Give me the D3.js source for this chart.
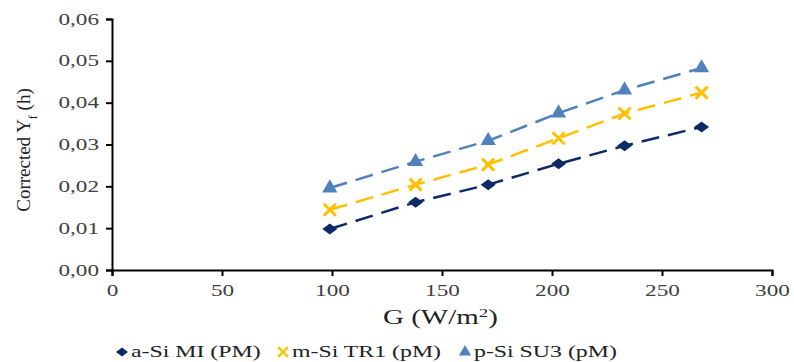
<!DOCTYPE html>
<html>
<head>
<meta charset="utf-8">
<script src="https://cdn.jsdelivr.net/npm/d3@7"></script>
<style>
  body { margin: 0; background: #fff; }
  svg text { font-family: "Liberation Serif", "DejaVu Serif", "Times New Roman", serif; }
</style>
</head>
<body>
<div id="chart"></div>
<script>
// irradiance values (x)
var gVals = [99, 138, 171, 203, 233, 268];
// corrected final yield per module
var aSi = [0.0098, 0.0162, 0.0204, 0.0254, 0.0297, 0.0342];
var mSi = [0.0144, 0.0204, 0.0252, 0.0315, 0.0374, 0.0424];
var pSi = [0.0196, 0.0259, 0.0309, 0.0375, 0.0430, 0.0483];
var seriesNames = ["a-Si MI (PM)", "m-Si TR1 (pM)", "p-Si SU3 (pM)"];
var xTicks = [0, 50, 100, 150, 200, 250, 300];
var yTicks = [0, 0.01, 0.02, 0.03, 0.04, 0.05, 0.06];

var colors = ["#0b2a66", "#ffc000", "#4f81bd"];
var shapes = ["diamond", "cross", "triangle"];

var svgW = 794, svgH = 362;
var margin = { top: 19, right: 21, bottom: 92, left: 112 };
var chartW = svgW - margin.left - margin.right;
var chartH = svgH - margin.top - margin.bottom;

var svg = d3.select("#chart").append("svg")
    .attr("width", svgW)
    .attr("height", svgH);

var chartG = svg.append("g")
    .attr("transform", `translate(${margin.left}, ${margin.top})`);

var xScale = d3.scaleLinear().domain([0, 300]).range([0, 660]);
var yScale = d3.scaleLinear().domain([0, 0.06]).range([chartH, 0]);

var fmt = function(d) { return d3.format(".2f")(d).replace(".", ","); };

var bAxis = d3.axisBottom(xScale).tickValues(xTicks).tickSize(6).tickPadding(9);
var lAxis = d3.axisLeft(yScale).tickValues(yTicks).tickSize(6).tickPadding(7).tickFormat(fmt);

var xAxis = chartG.append("g")
    .attr("transform", `translate(0, ${chartH})`)
    .call(bAxis);
var yAxis = chartG.append("g").call(lAxis);

[xAxis, yAxis].forEach(function(ax) {
    ax.attr("font-size", 16);
    ax.select(".domain").attr("stroke", "#000").attr("stroke-width", 2);
    ax.selectAll(".tick line").attr("stroke", "#000").attr("stroke-width", 2);
    ax.selectAll(".tick text").attr("fill", "#404040");
});

// the original picture is stretched sideways, so widen horizontal text
function widen(sel, k) {
    sel.each(function() {
        var len = this.getComputedTextLength();
        d3.select(this)
            .attr("textLength", len * k)
            .attr("lengthAdjust", "spacingAndGlyphs");
    });
}
widen(xAxis.selectAll(".tick text"), 1.45);
widen(yAxis.selectAll(".tick text"), 1.45);

var data = [aSi, mSi, pSi].map(function(vals, i) {
    return vals.map(function(v, j) { return { x: gVals[j], y: v }; });
});

var line = d3.line()
    .x(function(d) { return xScale(d.x); })
    .y(function(d) { return yScale(d.y); });

data.forEach(function(s, i) {
    chartG.append("path")
        .datum(s)
        .attr("d", line)
        .attr("fill", "none")
        .attr("stroke", colors[i])
        .attr("stroke-width", 2.5)
        .attr("stroke-dasharray", "18,9");
});

function drawMarker(g, i, cx, cy, k) {
    k = k || 1;
    if (shapes[i] === "cross") {
        var r = 6 * k;
        g.append("path")
            .attr("d", `M${cx - r},${cy - r}L${cx + r},${cy + r}M${cx - r},${cy + r}L${cx + r},${cy - r}`)
            .attr("stroke", colors[i])
            .attr("stroke-width", 3 * k)
            .attr("fill", "none");
    } else if (shapes[i] === "diamond") {
        var w = 7.5 * k, h = 5.5 * k;
        g.append("path")
            .attr("d", `M${cx - w},${cy}L${cx},${cy - h}L${cx + w},${cy}L${cx},${cy + h}Z`)
            .attr("fill", colors[i]);
    } else {
        g.append("path")
            .attr("d", d3.symbol().type(d3.symbolTriangle).size(100 * k * k)())
            .attr("transform", `translate(${cx}, ${cy})`)
            .attr("fill", colors[i]);
    }
}

data.forEach(function(s, i) {
    s.forEach(function(d) {
        drawMarker(chartG, i, xScale(d.x), yScale(d.y));
    });
});

// axis titles
var xTitle = svg.append("text")
    .attr("x", 383)
    .attr("y", 324)
    .attr("fill", "#222")
    .attr("font-size", 20)
    .html('G (W/m<tspan baseline-shift="super" font-size="13">2</tspan>)');
widen(xTitle, 1.45);

svg.append("text")
    .attr("transform", "translate(30, 150) rotate(-90)")
    .attr("text-anchor", "middle")
    .attr("fill", "#222")
    .attr("font-size", 19)
    .html('Corrected Y<tspan baseline-shift="sub" font-size="12">f</tspan> (h)');

// legend
var legX = [122, 283, 465];
var legend = svg.append("g");
seriesNames.forEach(function(name, i) {
    drawMarker(legend, i, legX[i], 352, 0.8);
    var t = legend.append("text")
        .attr("x", legX[i] + 9)
        .attr("y", 357)
        .attr("fill", "#222")
        .attr("font-size", 17)
        .text(name);
    widen(t, 1.4);
});
</script>
</body>
</html>
